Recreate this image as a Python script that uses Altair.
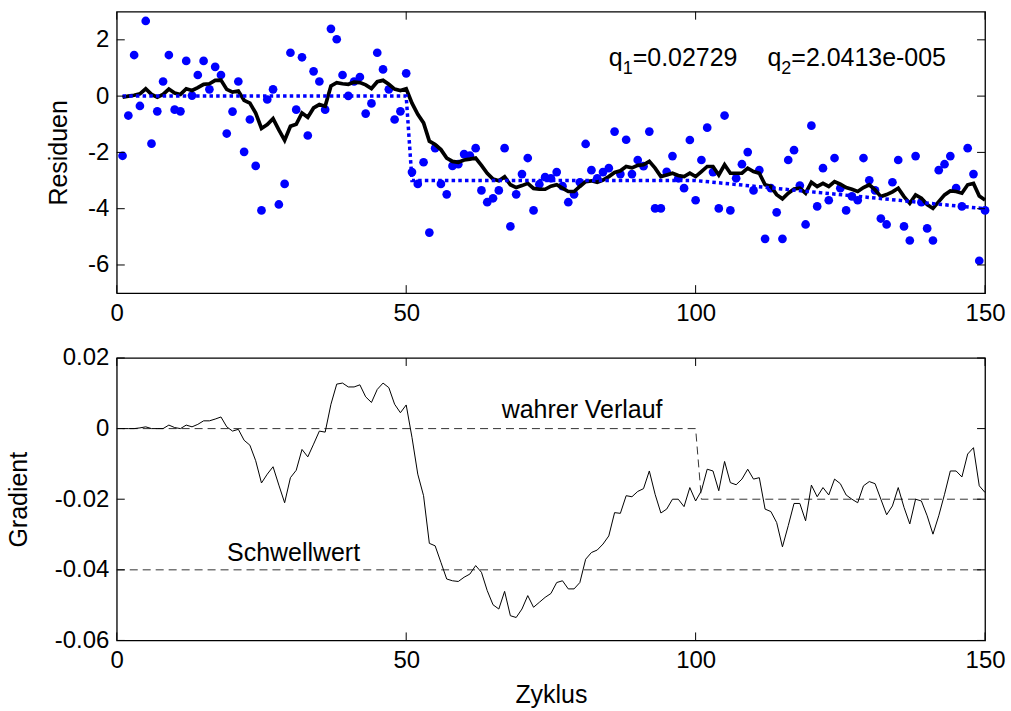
import altair as alt
import pandas as pd

FONT = "Liberation Sans"
W, H1, H2 = 870, 282, 283

zyklus = list(range(1, 151))

residuen = [
    -2.12, -0.69, 1.46, -0.35, 2.67, -1.69, -0.54, 0.52, 1.46, -0.48,
    -0.54, 1.25, 0.02, 0.75, 1.25, 0.24, 1.04, 0.75, -1.33, -0.55,
    0.52, -1.98, -0.83, -2.48, -4.06, -0.12, 0.24, -3.85, -3.12, 1.54,
    -0.48, 1.38, -1.40, 0.88, 0.52, -0.48, 2.39, 2.02, 0.75, 0.01,
    0.52, 0.68, -0.62, -0.26, 1.54, 0.95, 0.24, -0.83, -0.54, 0.81,
    -2.70, -3.12, -2.35, -4.85, -1.85, -3.12, -3.49, -2.48, -2.42, -2.06,
    -2.11, -1.85, -3.35, -3.77, -3.63, -3.35, -1.85, -4.63, -3.49, -2.77,
    -2.20, -4.06, -3.13, -2.88, -2.92, -2.70, -3.20, -3.77, -3.49, -3.06,
    -1.70, -2.63, -2.92, -2.70, -2.56, -1.26, -2.77, -1.55, -2.77, -2.27,
    -2.49, -1.26, -3.99, -3.99, -2.69, -2.13, -2.92, -3.27, -1.56, -3.70,
    -2.27, -1.12, -2.70, -3.99, -0.69, -4.06, -2.92, -2.42, -1.99, -3.35,
    -2.63, -5.07, -3.27, -4.13, -5.07, -2.27, -1.92, -3.18, -4.56, -1.05,
    -3.92, -2.56, -3.70, -2.20, -3.27, -4.06, -3.56, -3.70, -2.20, -2.99,
    -3.35, -4.35, -4.56, -3.06, -2.27, -4.63, -5.13, -2.13, -3.77, -4.70,
    -5.13, -2.63, -2.42, -2.13, -3.27, -3.92, -1.85, -2.77, -5.85, -4.06,
]

schaetzung = [
    -0.04, 0.00, 0.03, 0.08, 0.26, 0.06, -0.04, 0.06, 0.25, 0.11,
    0.06, 0.26, 0.20, 0.30, 0.42, 0.44, 0.56, 0.57, 0.24, 0.14,
    0.18, -0.15, -0.25, -0.60, -1.15, -1.01, -0.80, -1.20, -1.57, -1.07,
    -1.00, -0.60, -0.75, -0.42, -0.30, -0.36, 0.36, 0.48, 0.44, 0.42,
    0.50, 0.48, 0.40, 0.27, 0.51, 0.56, 0.42, 0.25, 0.20, 0.26,
    -0.25, -0.65, -0.95, -1.60, -1.72, -1.90, -2.20, -2.32, -2.35, -2.27,
    -2.24, -2.20, -2.46, -2.74, -2.95, -3.01, -2.87, -3.15, -3.25, -3.18,
    -3.10, -3.28, -3.31, -3.31, -3.20, -3.15, -3.27, -3.39, -3.39, -3.21,
    -3.04, -3.01, -3.06, -2.98, -2.86, -2.71, -2.65, -2.50, -2.55, -2.46,
    -2.44, -2.32, -2.56, -2.86, -2.80, -2.74, -2.82, -2.86, -2.74, -2.86,
    -2.68, -2.50, -2.50, -2.80, -2.44, -2.74, -2.74, -2.74, -2.56, -2.68,
    -2.74, -3.15, -3.21, -3.50, -3.65, -3.45, -3.30, -3.27, -3.45, -3.06,
    -3.21, -3.10, -3.21, -3.04, -3.13, -3.25, -3.31, -3.39, -3.25, -3.15,
    -3.33, -3.57, -3.50, -3.40, -3.27, -3.57, -3.81, -3.51, -3.63, -3.85,
    -3.99, -3.75, -3.51, -3.37, -3.39, -3.45, -3.15, -3.10, -3.55, -3.69,
]

gradient = [
    0.0, 0.0, 0.0, 0.0002, 0.0005, 0.0, 0.0, 0.0, 0.001, 0.0003,
    0.0, 0.001, 0.0005, 0.0012, 0.0022, 0.0022, 0.0027, 0.0033, 0.0005, -0.0007,
    -0.0002, -0.0033, -0.0047, -0.0091, -0.0154, -0.0129, -0.0108, -0.016, -0.021, -0.0139,
    -0.0118, -0.0059, -0.008, -0.0044, -0.0007, -0.001, 0.0069, 0.0126, 0.0129, 0.0118,
    0.0118, 0.0124, 0.009, 0.0074, 0.0111, 0.0129, 0.0116, 0.0069, 0.0045, 0.0067,
    -0.0025, -0.0129, -0.019, -0.0325, -0.0332, -0.0379, -0.0426, -0.0431, -0.0433, -0.0421,
    -0.0412, -0.0388, -0.0407, -0.0459, -0.0499, -0.0511, -0.0461, -0.053, -0.0535, -0.0511,
    -0.0473, -0.0506, -0.0492, -0.0478, -0.0467, -0.0436, -0.0431, -0.0454, -0.0454, -0.0436,
    -0.037, -0.0351, -0.0344, -0.0327, -0.0304, -0.0238, -0.024, -0.019, -0.0193, -0.0178,
    -0.017, -0.012, -0.0186, -0.0239, -0.0228, -0.02, -0.02, -0.0221, -0.0167, -0.0205,
    -0.0176, -0.0115, -0.012, -0.0176, -0.0093, -0.0153, -0.0159, -0.0143, -0.0115, -0.0143,
    -0.0139, -0.0228, -0.0235, -0.0266, -0.0335, -0.0275, -0.0212, -0.0212, -0.0261, -0.016,
    -0.0193, -0.0167, -0.0188, -0.0143, -0.0156, -0.0188, -0.02, -0.021, -0.0162, -0.015,
    -0.0156, -0.02, -0.0244, -0.0219, -0.0167, -0.0223, -0.027, -0.02, -0.0205, -0.0247,
    -0.0299, -0.0247, -0.0186, -0.012, -0.012, -0.0137, -0.0072, -0.0054, -0.0162, -0.0181,
]

wahr_x = [1, 50, 51, 100, 150]
wahr_y = [0, 0, -3, -3, -4]
grad_wahr_x = [0, 100, 101, 150]
grad_wahr_y = [0, 0, -0.02, -0.02]
schwelle_x = [0, 150]
schwelle_y = [-0.04, -0.04]

x_ticks = [0, 50, 100, 150]
top_y_ticks = [-6, -4, -2, 0, 2]
bot_y_ticks = [-0.06, -0.04, -0.02, 0, 0.02]

# annotation "q1=0.02729   q2=2.0413e-005" split into letter / subscript / rest
ann_top_x = [85.0, 112.4]
ann_top_y = [1.07, 1.07]
ann_top_q = ["q", "q"]
ann_top_sub = ["1", "2"]
ann_top_rest = ["=0.02729", "=2.0413e-005"]

ann_bot_x = [66.5, 19.05]
ann_bot_y = [0.0031, -0.0376]
ann_bot_t = ["wahrer Verlauf", "Schwellwert"]

xscale = alt.Scale(domain=[0, 150], nice=False, zero=False)


def xaxis(title, lp, tp):
    return alt.Axis(values=x_ticks, ticks=False, domain=False, grid=False,
                    labelFontSize=24, labelFont=FONT, labelColor="black",
                    labelPadding=lp, labelFlush=False, labelOverlap=False,
                    title=title, titleFontSize=25, titleFont=FONT,
                    titleFontWeight="normal", titleColor="black", titlePadding=tp)


def yaxis(values, title, tx, h):
    return alt.Axis(values=values, ticks=False, domain=False, grid=False,
                    labelFontSize=24, labelFont=FONT, labelColor="black",
                    labelPadding=8, labelFlush=False, labelOverlap=False,
                    labelExpr="'' + datum.value",
                    title=title, titleFontSize=25, titleFont=FONT,
                    titleFontWeight="normal", titleColor="black",
                    titleX=tx, titleY=h / 2, titleAngle=270,
                    titleBaseline="alphabetic", titleAlign="center")


# ---------- top panel ----------
XT = alt.X("x:Q", scale=xscale, axis=xaxis(None, 8, 6))
YT = alt.Y("y:Q", scale=alt.Scale(domain=[-7, 3], nice=False, zero=False),
           axis=yaxis(top_y_ticks, "Residuen", -50, H1))

df_pts = pd.DataFrame({"x": zyklus, "y": residuen})
df_est = pd.DataFrame({"x": zyklus, "y": schaetzung})
df_true = pd.DataFrame({"x": wahr_x, "y": wahr_y})
df_ann_top = pd.DataFrame({"x": ann_top_x, "y": ann_top_y, "q": ann_top_q,
                           "s": ann_top_sub, "r": ann_top_rest})

pts = alt.Chart(df_pts).mark_circle(size=76, color="#0000FF", opacity=1).encode(x=XT, y=YT)
est = alt.Chart(df_est).mark_line(color="black", strokeWidth=3.7).encode(x=XT, y=YT)
tru = alt.Chart(df_true).mark_line(color="#0000FF", strokeWidth=3.5,
                                   strokeDash=[3.5, 3.2]).encode(x=XT, y=YT)
txt_q = alt.Chart(df_ann_top).mark_text(align="left", baseline="alphabetic",
                                        fontSize=25, font=FONT, color="black").encode(
    x=XT, y=YT, text="q:N")
txt_s = alt.Chart(df_ann_top).mark_text(align="left", baseline="alphabetic", dx=14, dy=8,
                                        fontSize=18, font=FONT, color="black").encode(
    x=XT, y=YT, text="s:N")
txt_r = alt.Chart(df_ann_top).mark_text(align="left", baseline="alphabetic", dx=24,
                                        fontSize=25, font=FONT, color="black").encode(
    x=XT, y=YT, text="r:N")

xt_df = pd.DataFrame({"x": x_ticks})
yt_top_df = pd.DataFrame({"y": top_y_ticks})
tk1 = alt.Chart(xt_df).mark_rule(color="black", strokeWidth=1).encode(
    x=XT, y=alt.value(H1), y2=alt.value(H1 - 8))
tk2 = alt.Chart(xt_df).mark_rule(color="black", strokeWidth=1).encode(
    x=XT, y=alt.value(0), y2=alt.value(8))
tk3 = alt.Chart(yt_top_df).mark_rule(color="black", strokeWidth=1).encode(
    y=YT, x=alt.value(0), x2=alt.value(8))
tk4 = alt.Chart(yt_top_df).mark_rule(color="black", strokeWidth=1).encode(
    y=YT, x=alt.value(W), x2=alt.value(W - 8))

top = alt.layer(pts, est, tru, txt_q, txt_s, txt_r, tk1, tk2, tk3, tk4).properties(
    width=W, height=H1)

# ---------- bottom panel ----------
XB = alt.X("x:Q", scale=xscale, axis=xaxis("Zyklus", 8, 10))
YB = alt.Y("g:Q", scale=alt.Scale(domain=[-0.06, 0.02], nice=False, zero=False),
           axis=yaxis(bot_y_ticks, "Gradient", -90, H2))

df_grad = pd.DataFrame({"x": zyklus, "g": gradient})
df_gw = pd.DataFrame({"x": grad_wahr_x, "g": grad_wahr_y})
df_sw = pd.DataFrame({"x": schwelle_x, "g": schwelle_y})
df_ann_bot = pd.DataFrame({"x": ann_bot_x, "g": ann_bot_y, "t": ann_bot_t})

gw = alt.Chart(df_gw).mark_line(color="#333333", strokeWidth=1, strokeDash=[8, 5]).encode(x=XB, y=YB)
sw = alt.Chart(df_sw).mark_line(color="#333333", strokeWidth=1, strokeDash=[8, 5]).encode(x=XB, y=YB)
gl = alt.Chart(df_grad).mark_line(color="black", strokeWidth=1).encode(x=XB, y=YB)
txt_bot = alt.Chart(df_ann_bot).mark_text(align="left", baseline="alphabetic",
                                          fontSize=25, font=FONT, color="black").encode(
    x=XB, y=YB, text="t:N")

yt_bot_df = pd.DataFrame({"g": bot_y_ticks})
bk1 = alt.Chart(xt_df).mark_rule(color="black", strokeWidth=1).encode(
    x=XB, y=alt.value(H2), y2=alt.value(H2 - 8))
bk2 = alt.Chart(xt_df).mark_rule(color="black", strokeWidth=1).encode(
    x=XB, y=alt.value(0), y2=alt.value(8))
bk3 = alt.Chart(yt_bot_df).mark_rule(color="black", strokeWidth=1).encode(
    y=YB, x=alt.value(0), x2=alt.value(8))
bk4 = alt.Chart(yt_bot_df).mark_rule(color="black", strokeWidth=1).encode(
    y=YB, x=alt.value(W), x2=alt.value(W - 8))

bottom = alt.layer(gw, sw, gl, txt_bot, bk1, bk2, bk3, bk4).properties(width=W, height=H2)

chart = alt.vconcat(top, bottom, spacing=65, bounds="flush").resolve_scale(
    y="independent", x="independent"
).configure_view(stroke="black", strokeWidth=1.3).properties(
    padding={"left": 6, "top": 9, "right": 5, "bottom": 5},
    background="white",
)

chart.save("out.html", embed_options={"renderer": "svg", "actions": False})
